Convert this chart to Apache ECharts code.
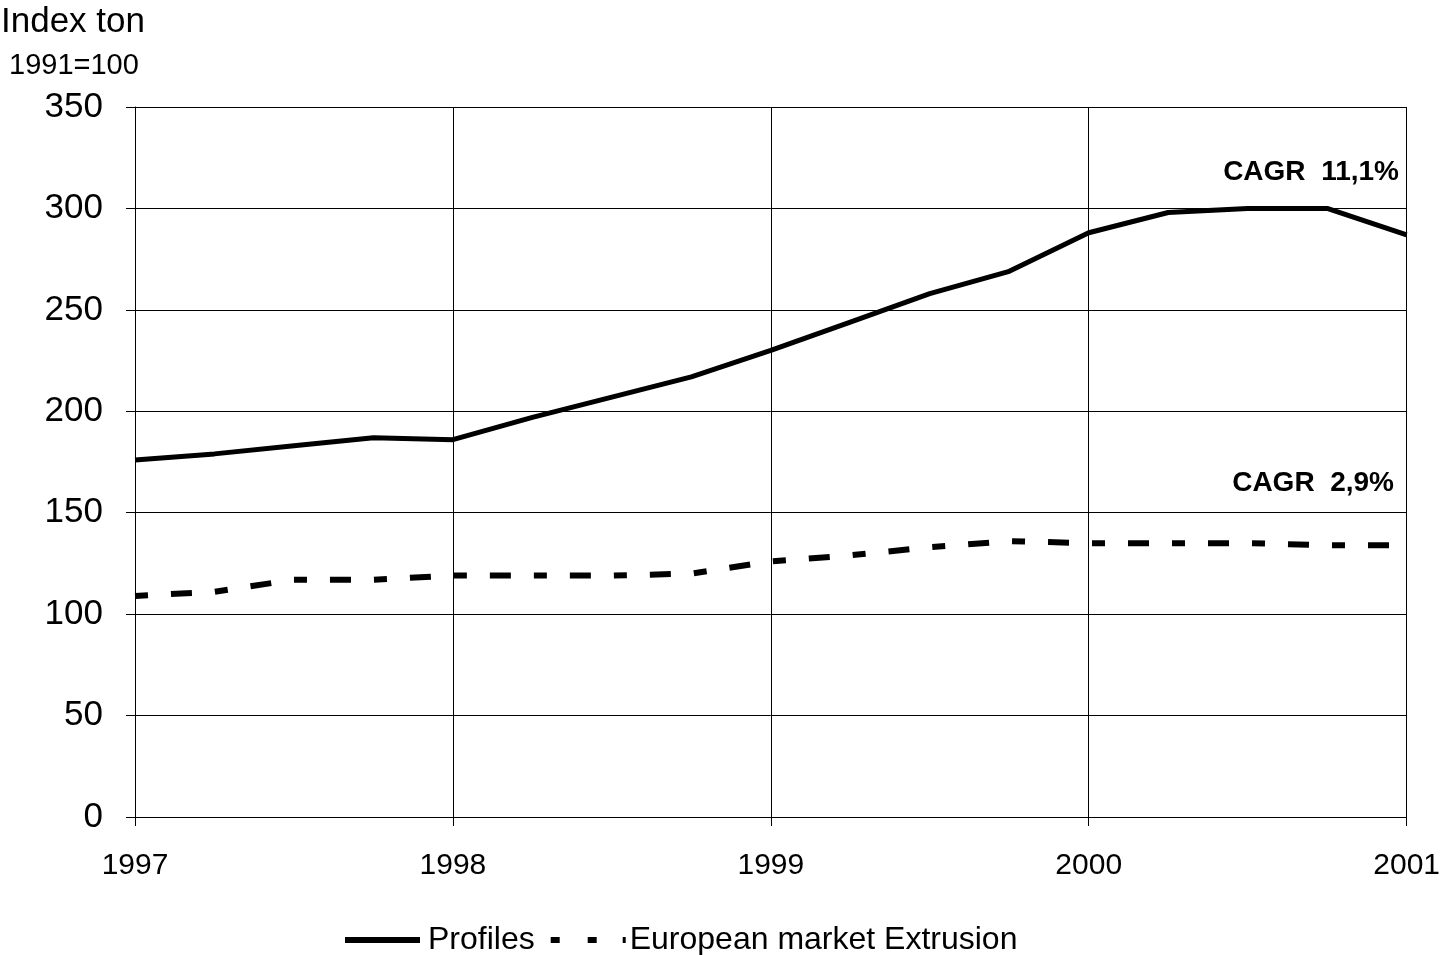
<!DOCTYPE html>
<html>
<head>
<meta charset="utf-8">
<script src="https://cdn.jsdelivr.net/npm/echarts@6/dist/echarts.min.js"></script>
<style>
html,body{margin:0;padding:0;background:#fff;overflow:hidden;}
#c{width:1443px;height:955px;}
</style>
</head>
<body>
<div id="c"></div>
<script>
var quarters = ['1997','1997 Q2','1997 Q3','1997 Q4',
                '1998','1998 Q2','1998 Q3','1998 Q4',
                '1999','1999 Q2','1999 Q3','1999 Q4',
                '2000','2000 Q2','2000 Q3','2000 Q4',
                '2001'];
var profiles = [176, 179, 183, 187, 186, 197, 207, 217, 230, 244, 258, 269, 288, 298, 300, 300, 287];
var europeanExtrusion = [109, 111, 117, 117, 119, 119, 119, 120, 126, 129, 133, 136, 135, 135, 135, 134, 134];
var yTicks = {min: 0, max: 350, interval: 50};
var seriesNames = ['Profiles', 'European market Extrusion'];
var annotations = ['CAGR  11,1%', 'CAGR  2,9%'];

var FONT = '"Liberation Sans", Arial, sans-serif';
var chart = echarts.init(document.getElementById('c'));
chart.setOption({
  animation: false,
  backgroundColor: '#fff',
  textStyle: {fontFamily: FONT, color: '#000'},
  grid: {left: 135, right: 32, top: 107, bottom: 138, containLabel: false},
  xAxis: {
    type: 'category',
    data: quarters,
    boundaryGap: false,
    axisLine: {lineStyle: {color: '#000', width: 1}},
    axisTick: {show: true, interval: 3, length: 9, lineStyle: {color: '#000'}},
    axisLabel: {interval: 3, fontSize: 30, color: '#000', fontFamily: FONT, margin: 34,
                formatter: function (v) { return v.slice(0, 4); }},
    splitLine: {show: true, interval: 3, lineStyle: {color: '#000', width: 1}}
  },
  yAxis: {
    type: 'value',
    min: yTicks.min, max: yTicks.max, interval: yTicks.interval,
    axisLine: {show: true, lineStyle: {color: '#000', width: 1}},
    axisTick: {show: true, length: 9, lineStyle: {color: '#000'}},
    axisLabel: {fontSize: 35, color: '#000', fontFamily: FONT, margin: 32},
    splitLine: {show: true, lineStyle: {color: '#000', width: 1}}
  },
  legend: {
    top: 919,
    left: 340,
    itemWidth: 75,
    itemHeight: 6,
    itemGap: 16,
    textStyle: {fontSize: 32, color: '#000', fontFamily: FONT},
    data: [
      {name: seriesNames[0], icon: 'path://M0,0H75V6H0Z',
       textStyle: {padding: [0, 0, 0, 3]}},
      {name: seriesNames[1], icon: 'path://M0,0H9V6H0Z M37,0H46V6H37Z M72,0H75V6H72Z',
       textStyle: {padding: [0, 0, 0, -1]}}
    ]
  },
  series: [
    {
      name: seriesNames[0], type: 'line', data: profiles,
      symbol: 'none', smooth: false,
      lineStyle: {color: '#000', width: 5, type: 'solid'},
      itemStyle: {color: '#000'}
    },
    {
      name: seriesNames[1], type: 'line', data: europeanExtrusion,
      symbol: 'none', smooth: false,
      lineStyle: {color: '#000', width: 6, type: [13, 23, 21, 23]},
      itemStyle: {color: '#000'}
    }
  ],
  graphic: [
    {type: 'text', left: 1, top: 5, style: {text: 'Index ton', font: '35px ' + FONT, fill: '#000'}},
    {type: 'text', left: 9, top: 51, style: {text: '1991=100', font: '29px ' + FONT, fill: '#000'}},
    {type: 'text', right: 44, top: 158, style: {text: annotations[0], font: 'bold 28px ' + FONT, fill: '#000', textAlign: 'right'}},
    {type: 'text', right: 49, top: 469, style: {text: annotations[1], font: 'bold 28px ' + FONT, fill: '#000', textAlign: 'right'}}
  ]
});
</script>
</body>
</html>
